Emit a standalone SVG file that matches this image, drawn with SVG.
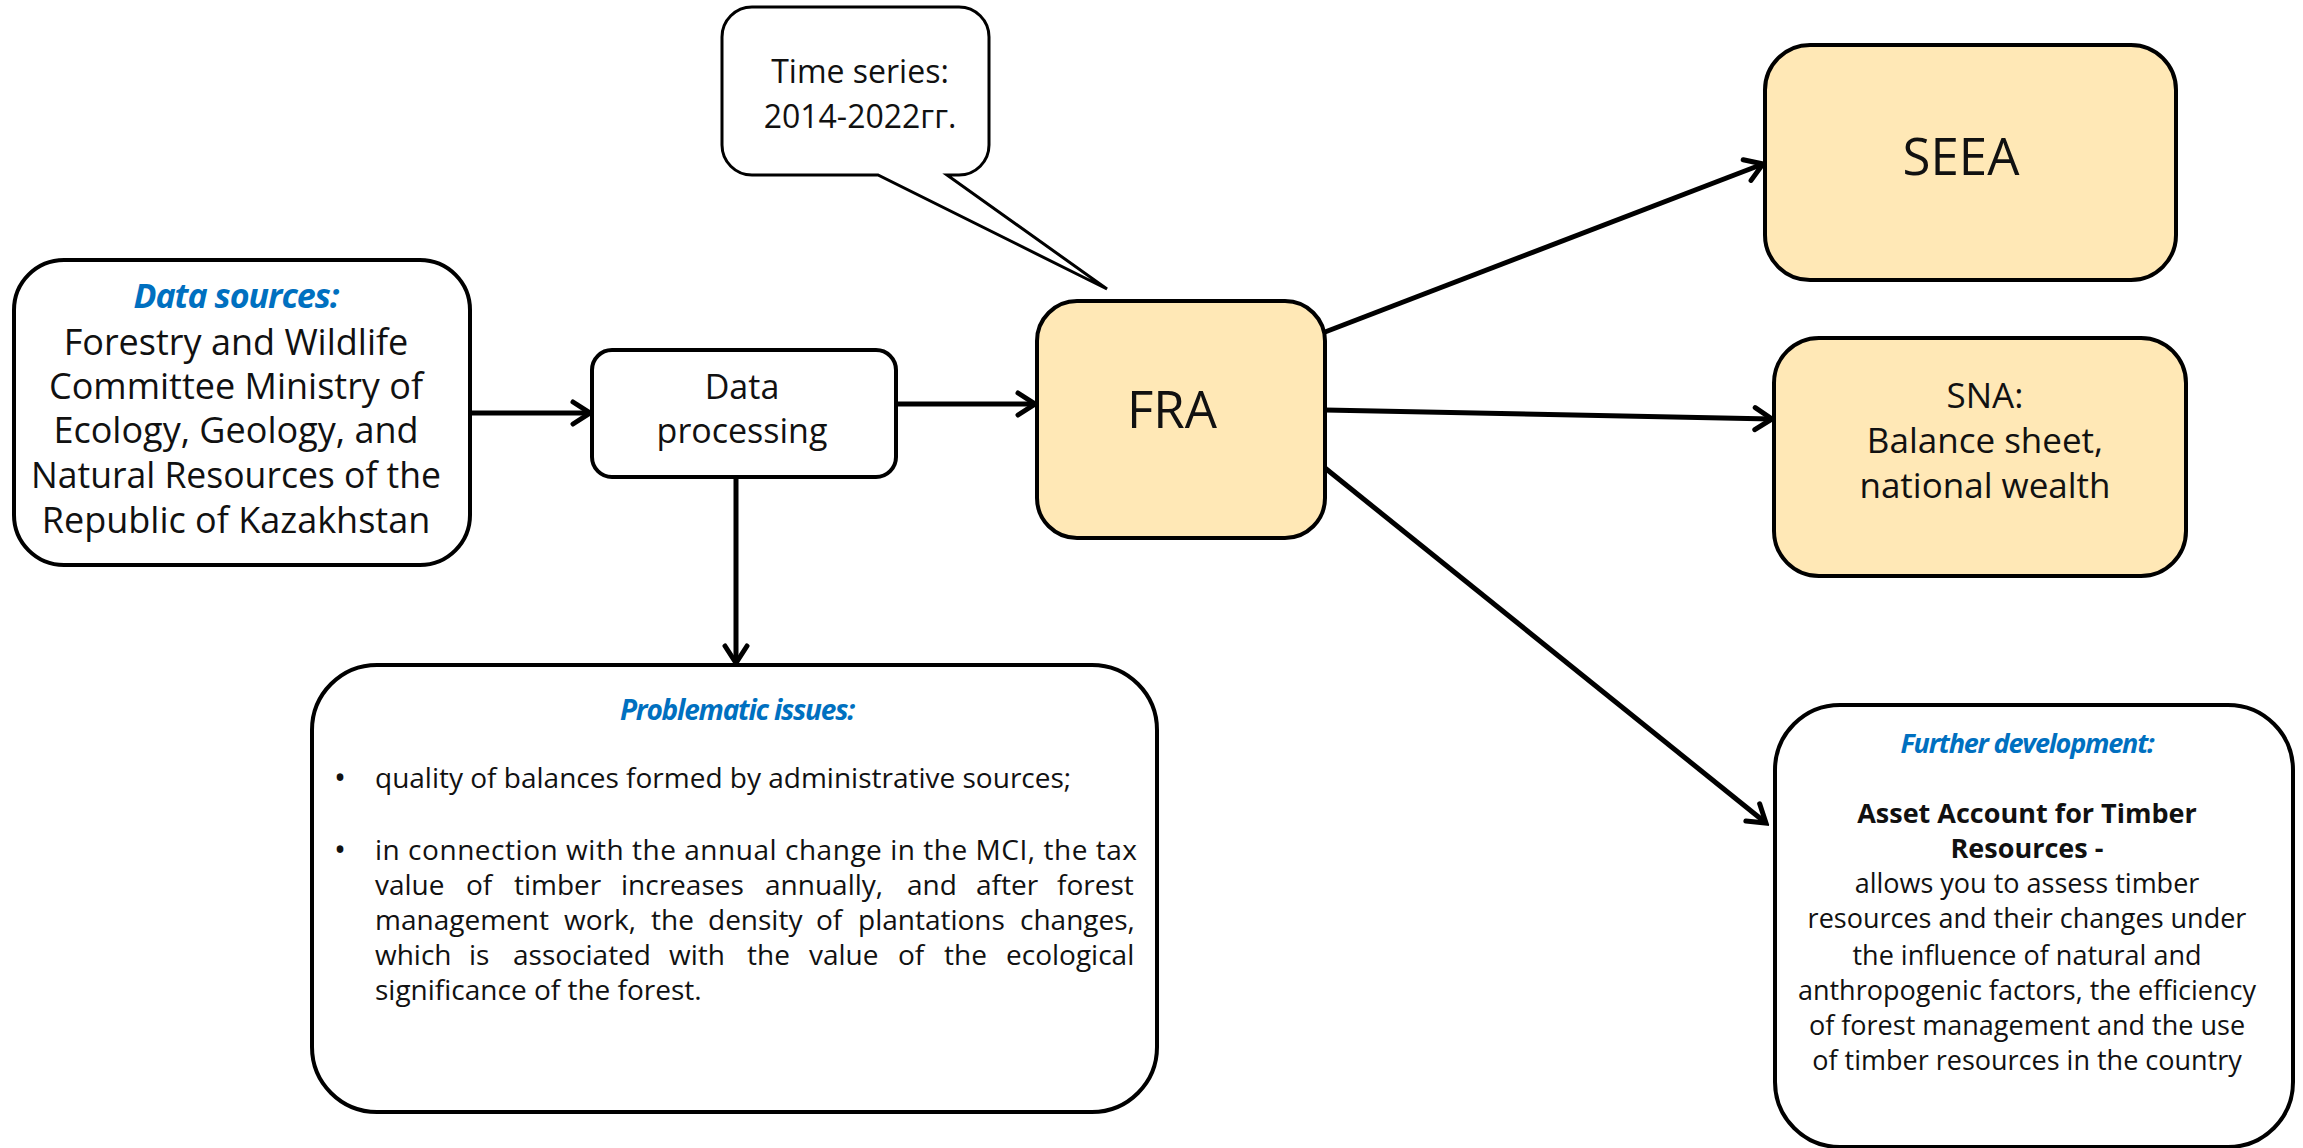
<svg xmlns="http://www.w3.org/2000/svg" width="2303" height="1148" viewBox="0 0 2303 1148">
<style>
  .box { fill: #ffffff; stroke: #000000; stroke-width: 4; }
  .yel { fill: #FFE8B6; stroke: #000000; stroke-width: 4; }
  .t { font-family: "Open Sans", "Noto Sans", "Liberation Sans", sans-serif; fill: #111111; }
  .c { text-anchor: middle; }
  .blue { fill: #0070C0; font-weight: bold; font-style: italic; }
  .conn { stroke: #000000; stroke-width: 5; fill: none; }
  .p { font-size: 28px; }
</style>
<defs>
  <marker id="arr" viewBox="-22 -14 26 28" markerWidth="26" markerHeight="28" refX="0" refY="0" orient="auto" markerUnits="userSpaceOnUse">
    <path d="M-17,-11 L0,0 L-17,11" fill="none" stroke="#000" stroke-width="5" stroke-linecap="round" stroke-linejoin="miter"/>
  </marker>
</defs>

<g id="connectors">
  <line class="conn" x1="470" y1="413" x2="590" y2="413" marker-end="url(#arr)"/>
  <line class="conn" x1="896" y1="404" x2="1035" y2="404" marker-end="url(#arr)"/>
  <line class="conn" x1="736" y1="477" x2="736" y2="663" marker-end="url(#arr)"/>
  <line class="conn" x1="1325" y1="332" x2="1763" y2="164" marker-end="url(#arr)"/>
  <line class="conn" x1="1325" y1="410" x2="1772" y2="419" marker-end="url(#arr)"/>
  <line class="conn" x1="1325" y1="468" x2="1766" y2="823" marker-end="url(#arr)"/>
</g>

<g id="callout">
  <path d="M752,7 H959 A30,30 0 0 1 989,37 V145 A30,30 0 0 1 959,175 H947 L1107,289 L878,175 H752 A30,30 0 0 1 722,145 V37 A30,30 0 0 1 752,7 Z" fill="#ffffff" stroke="#000" stroke-width="3"/>
  <text class="t c" x="860" y="83" font-size="32">Time series:</text>
  <text class="t c" x="860" y="128" font-size="32">2014-2022гг.</text>
</g>

<g id="data-sources">
  <rect class="box" x="14" y="260" width="456" height="305" rx="50"/>
  <text class="t c blue" x="236" y="308" font-size="34" letter-spacing="-1">Data sources:</text>
  <text class="t c" x="236" y="355" font-size="36">Forestry and Wildlife</text>
  <text class="t c" x="236" y="399" font-size="36">Committee Ministry of</text>
  <text class="t c" x="236" y="443" font-size="36">Ecology, Geology, and</text>
  <text class="t c" x="236" y="488" font-size="36" textLength="410" lengthAdjust="spacingAndGlyphs">Natural Resources of the</text>
  <text class="t c" x="236" y="533" font-size="36">Republic of Kazakhstan</text>
</g>

<g id="data-processing">
  <rect class="box" x="592" y="350" width="304" height="127" rx="20"/>
  <text class="t c" x="742" y="399" font-size="34">Data</text>
  <text class="t c" x="742" y="443" font-size="34">processing</text>
</g>

<g id="fra">
  <rect class="yel" x="1037" y="301" width="288" height="237" rx="40"/>
  <text class="t c" x="1172" y="428" font-size="51">FRA</text>
</g>

<g id="seea">
  <rect class="yel" x="1765" y="45" width="411" height="235" rx="45"/>
  <text class="t c" x="1961" y="175" font-size="51">SEEA</text>
</g>

<g id="sna">
  <rect class="yel" x="1774" y="338" width="412" height="238" rx="45"/>
  <text class="t c" x="1985" y="408" font-size="35">SNA:</text>
  <text class="t c" x="1985" y="453" font-size="35">Balance sheet,</text>
  <text class="t c" x="1985" y="498" font-size="35">national wealth</text>
</g>

<g id="problematic-issues">
  <rect class="box" x="312" y="665" width="845" height="447" rx="65"/>
  <text class="t c blue" x="737" y="720" font-size="28" letter-spacing="-1.2">Problematic issues:</text>
  <text class="t" x="334" y="789" font-size="32">•</text>
  <text class="t p" x="375" y="788">quality of balances formed by administrative sources;</text>
  <text class="t" x="334" y="861" font-size="32">•</text>
  <text class="t p" x="375" y="860" textLength="762" lengthAdjust="spacing">in connection with the annual change in the MCI, the tax</text>
  <text class="t p" y="895"><tspan x="375">value</tspan> <tspan x="466">of</tspan> <tspan x="514">timber</tspan> <tspan x="621">increases</tspan> <tspan x="765">annually,</tspan> <tspan x="907">and</tspan> <tspan x="976">after</tspan> <tspan x="1057">forest</tspan></text>
  <text class="t p" y="930"><tspan x="375">management</tspan> <tspan x="564">work,</tspan> <tspan x="651">the</tspan> <tspan x="708">density</tspan> <tspan x="816">of</tspan> <tspan x="858">plantations</tspan> <tspan x="1020">changes,</tspan></text>
  <text class="t p" y="965"><tspan x="375">which</tspan> <tspan x="469">is</tspan> <tspan x="513">associated</tspan> <tspan x="669">with</tspan> <tspan x="747">the</tspan> <tspan x="809">value</tspan> <tspan x="898">of</tspan> <tspan x="944">the</tspan> <tspan x="1006">ecological</tspan></text>
  <text class="t p" x="375" y="1000">significance of the forest.</text>
</g>

<g id="further-development">
  <rect class="box" x="1775" y="705" width="518" height="442" rx="65"/>
  <text class="t c blue" x="2027" y="753" font-size="27" letter-spacing="-1.2">Further development:</text>
  <text class="t c" x="2027" y="823" font-size="27" font-weight="bold">Asset Account for Timber</text>
  <text class="t c" x="2027" y="858" font-size="27" font-weight="bold">Resources -</text>
  <text class="t c" x="2027" y="893" font-size="27">allows you to assess timber</text>
  <text class="t c" x="2027" y="928" font-size="27">resources and their changes under</text>
  <text class="t c" x="2027" y="965" font-size="27">the influence of natural and</text>
  <text class="t c" x="2027" y="1000" font-size="27">anthropogenic factors, the efficiency</text>
  <text class="t c" x="2027" y="1035" font-size="27">of forest management and the use</text>
  <text class="t c" x="2027" y="1070" font-size="27">of timber resources in the country</text>
</g>
</svg>
